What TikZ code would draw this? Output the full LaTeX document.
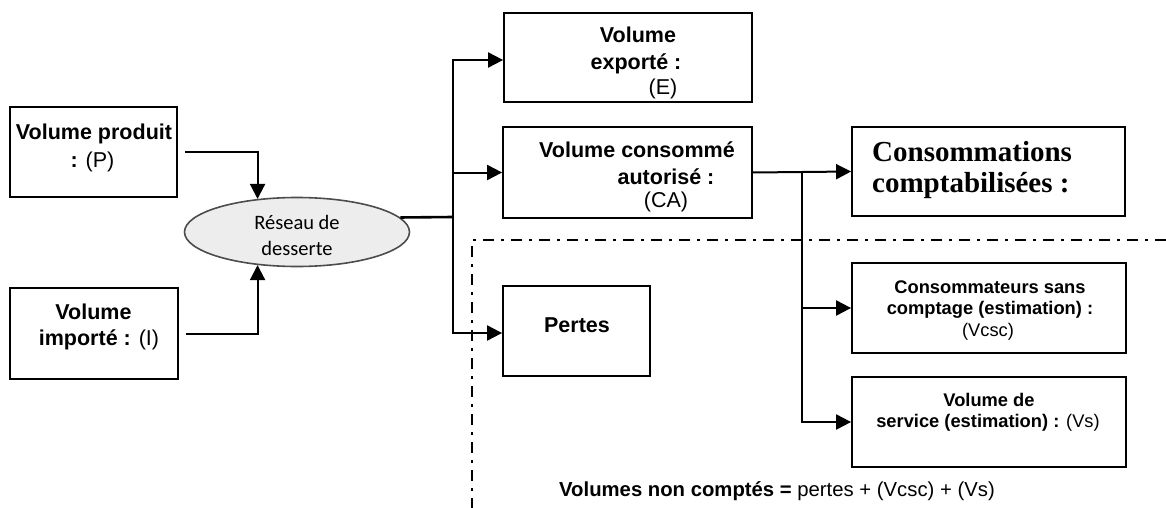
\documentclass[tikz,border=0pt]{standalone}
\usepackage{fontspec}
\setmainfont{Liberation Sans}
\newfontfamily\serifbf{Liberation Serif}
\newfontfamily\calib{Carlito}
\usetikzlibrary{shapes.geometric,arrows.meta}
\begin{document}
\begin{tikzpicture}[x=1pt,y=-1pt,
  box/.style={draw,line width=1.8pt,rectangle,inner sep=0pt},
  arr/.style={line width=2pt,-{Triangle[length=15pt,width=15pt]}},
  lbl/.style={inner sep=0pt,anchor=base,font=\fontsize{21.5}{25}\selectfont},
  slbl/.style={inner sep=0pt,anchor=base,font=\fontsize{18.3}{22}\selectfont},
  dashdotline/.style={line width=2.5pt,dash pattern=on 11pt off 7pt on 3pt off 7pt}
]
\useasboundingbox (0,0) rectangle (1166,508);
% boxes
\node[box,minimum width=167pt,minimum height=90pt] (P) at (93.5,152) {};
\node[box,minimum width=168pt,minimum height=91pt] (I) at (94,333.5) {};
\node[box,minimum width=248pt,minimum height=89pt] (E) at (628,57.5) {};
\node[box,minimum width=249pt,minimum height=91pt] (CA) at (627.5,172.5) {};
\node[box,minimum width=147pt,minimum height=90pt] (Pe) at (576.5,331) {};
\node[box,minimum width=273pt,minimum height=89pt] (Co) at (988.5,171.5) {};
\node[box,minimum width=274pt,minimum height=90pt] (Vc) at (989,308) {};
\node[box,minimum width=274pt,minimum height=90pt] (Vs) at (989,422) {};
\node[ellipse,draw=black!70,fill=black!7,line width=1.6pt,minimum width=225pt,minimum height=69pt,inner sep=0pt] (R) at (297,232) {};
% texts
\node[lbl] (tP1) at (94,139.5) {\bfseries Volume produit};
\node[lbl] (tP2) at (92.5,167.5) {\bfseries :\mdseries{} (P)};
\node[lbl] (tI1) at (93.5,319.5) {\bfseries Volume};
\node[lbl] (tI2) at (99,345.5) {\bfseries importé :\mdseries{} (I)};
\node[inner sep=0pt,anchor=base,font=\calib\fontsize{20.5}{24}\selectfont] (tR1) at (297,229) {Réseau de};
\node[inner sep=0pt,anchor=base,font=\calib\fontsize{20.5}{24}\selectfont] (tR2) at (297,255) {desserte};
\node[lbl] (tE1) at (638,42.5) {\bfseries Volume};
\node[lbl] (tE2) at (636,69.5) {\bfseries exporté :};
\node[lbl] (tE3) at (663,94.5) {(E)};
\node[lbl] (tC1) at (637,157.5) {\bfseries Volume consommé};
\node[lbl] (tC2) at (666,184.5) {\bfseries autorisé :};
\node[lbl] (tC3) at (666,207.5) {(CA)};
\node[lbl] (tPe) at (577,332.5) {\bfseries Pertes};
\node[inner sep=0pt,anchor=base west,font=\serifbf\bfseries\fontsize{29}{33}\selectfont] (tCo1) at (872,161.5) {Consommations};
\node[inner sep=0pt,anchor=base west,font=\serifbf\bfseries\fontsize{29}{33}\selectfont] (tCo2) at (872,192.5) {comptabilisées :};
\node[slbl] (tV1) at (990,293.5) {\bfseries Consommateurs sans};
\node[slbl] (tV2) at (990,314.5) {\bfseries comptage (estimation) :};
\node[slbl] (tV3) at (988,336.5) {(Vcsc)};
\node[slbl] (tS1) at (989,406.5) {\bfseries Volume de};
\node[slbl] (tS2) at (988,427.5) {\bfseries service (estimation) :\mdseries{} (Vs)};
\node[inner sep=0pt,anchor=base west,font=\fontsize{20.3}{24}\selectfont] (tB) at (559,496) {\bfseries Volumes non comptés =\mdseries{} pertes + (Vcsc) + (Vs)};
% connectors
\draw[arr] ([xshift=7pt]P.east) -| (R.140);
\draw[arr] ([xshift=7pt]I.east) -| (R.220);
\coordinate (J) at (453,217);
\draw[line width=2.6pt] (R.8) -- (J);
\draw[arr] (J) |- ([yshift=-2.5pt]E.west);
\draw[arr] (J) |- (CA.west);
\draw[arr] (J) |- ([yshift=-2pt]Pe.west);
\draw[arr] (CA.east) -- (Co.west);
\coordinate (K) at (802,172);
\draw[arr] (K) |- (Vc.west);
\draw[arr] (K) |- (Vs.west);
% dash-dot boundary
\coordinate (D1) at (1166,240);
\coordinate (D2) at (472,240);
\coordinate (D3) at (472,508);
\draw[dashdotline] (D1) -- (D2) -- (D3);
\end{tikzpicture}
\end{document}
